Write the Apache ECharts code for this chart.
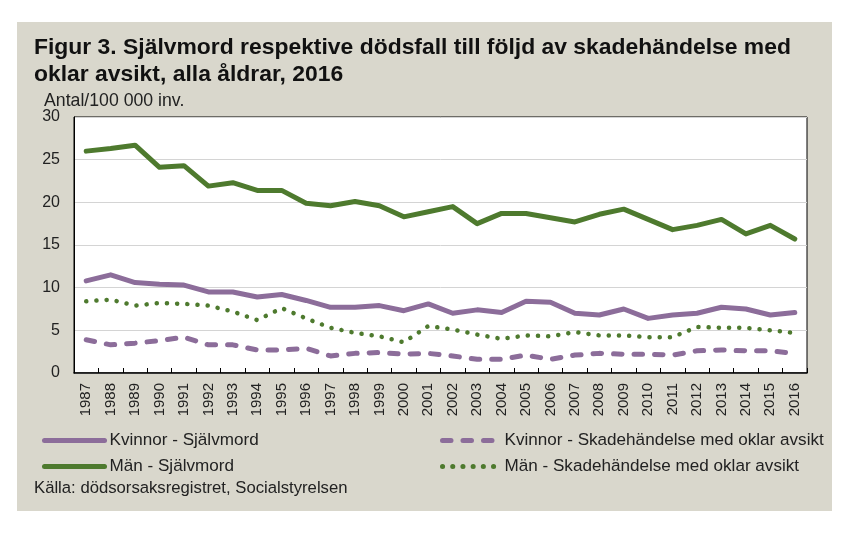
<!DOCTYPE html>
<html>
<head>
<meta charset="utf-8">
<script src="https://cdn.jsdelivr.net/npm/echarts@6/dist/echarts.min.js"></script>
<style>
html,body{margin:0;padding:0;background:#fff;}
#c{width:857px;height:533px;}
</style>
</head>
<body>
<div id="c"></div>
<script>
const years = ['1987','1988','1989','1990','1991','1992','1993','1994','1995','1996','1997','1998','1999','2000','2001','2002','2003','2004','2005','2006','2007','2008','2009','2010','2011','2012','2013','2014','2015','2016'];
const kvinnorSjalvmord = [10.8,11.5,10.6,10.4,10.3,9.5,9.5,8.9,9.2,8.5,7.7,7.7,7.9,7.3,8.1,7.0,7.4,7.1,8.4,8.3,7.0,6.8,7.5,6.4,6.8,7.0,7.7,7.5,6.8,7.1];
const kvinnorOklar = [3.9,3.3,3.5,3.8,4.2,3.3,3.3,2.7,2.7,2.9,2.0,2.3,2.4,2.2,2.3,2.0,1.6,1.6,2.1,1.6,2.1,2.3,2.2,2.2,2.1,2.6,2.7,2.6,2.6,2.3];
const manSjalvmord = [26.0,26.3,26.7,24.1,24.3,21.9,22.3,21.4,21.4,19.9,19.6,20.1,19.6,18.3,18.9,19.5,17.5,18.7,18.7,18.2,17.7,18.6,19.2,18.0,16.8,17.3,18.0,16.3,17.3,15.7];
const manOklar = [8.4,8.6,7.9,8.2,8.1,7.9,7.2,6.2,7.6,6.4,5.3,4.7,4.3,3.6,5.5,5.1,4.5,4.0,4.4,4.3,4.8,4.4,4.4,4.2,4.2,5.4,5.3,5.3,5.0,4.7];
const seriesNames = ['Kvinnor - Självmord','Kvinnor - Skadehändelse med oklar avsikt','Män - Självmord','Män - Skadehändelse med oklar avsikt'];
const titleLines = ['Figur 3. Självmord respektive dödsfall till följd av skadehändelse med','oklar avsikt, alla åldrar, 2016'];
const unitLabel = 'Antal/100 000 inv.';
const sourceText = 'Källa: dödsorsaksregistret, Socialstyrelsen';

const FONT = '"Liberation Sans", Arial, sans-serif';
const cvs = document.createElement('canvas').getContext('2d');
function fit(text, weight, target){
  cvs.font = weight + ' 100px ' + FONT;
  return Math.round(100 * target / cvs.measureText(text).width * 10) / 10;
}
const titleSize = fit(titleLines[0], 'bold', 756);
const legendSize = fit(seriesNames[1], 'normal', 319);
const sourceSize = fit(sourceText, 'normal', 313);
const unitSize = fit(unitLabel, 'normal', 140);

const GREEN = '#4E7A2E';
const PURPLE = '#8C6D9A';

const legendCommon = {orient:'vertical', itemHeight:16, itemGap:9,
  itemStyle:{opacity:0},
  lineStyle:{width:5, cap:'round', type:'inherit'},
  textStyle:{fontFamily:FONT, fontSize:legendSize, color:'#222'}};

const chart = echarts.init(document.getElementById('c'), null, {renderer:'canvas'});
chart.setOption({
  animation:false,
  backgroundColor:'#fff',
  graphic:[{type:'rect', z:-10, silent:true, shape:{x:17,y:22,width:815,height:489}, style:{fill:'#D9D7CC'}}],
  title:[
    {text:titleLines.join('\n'), left:29, top:29, textStyle:{fontFamily:FONT, fontWeight:'bold', fontSize:titleSize, lineHeight:27, color:'#111'}},
    {text:unitLabel, left:39, top:87, textStyle:{fontFamily:FONT, fontWeight:'normal', fontSize:unitSize, color:'#222'}},
    {text:sourceText, left:29, top:475, textStyle:{fontFamily:FONT, fontWeight:'normal', fontSize:sourceSize, color:'#222'}}
  ],
  legend:[
    Object.assign({left:37, top:427, itemWidth:60, data:[seriesNames[0], seriesNames[2]]}, legendCommon),
    Object.assign({left:435, top:427, itemWidth:57, data:[seriesNames[1], seriesNames[3]]}, legendCommon)
  ],
  grid:{left:74, right:50, top:117, bottom:160, show:true, backgroundColor:'#fff', borderColor:'#000', borderWidth:1},
  xAxis:{
    type:'category', data:years, boundaryGap:true,
    axisLine:{lineStyle:{color:'#000', width:1.5}},
    axisTick:{show:true, inside:true, length:5, alignWithLabel:false, interval:0, lineStyle:{color:'#000'}},
    axisLabel:{rotate:90, interval:0, margin:10, fontFamily:FONT, fontSize:15, color:'#222'}
  },
  yAxis:{
    type:'value', min:0, max:30, interval:5,
    axisLine:{show:true, lineStyle:{color:'#000', width:1}},
    axisTick:{show:false},
    axisLabel:{margin:14, fontFamily:FONT, fontSize:16, color:'#222'},
    splitLine:{lineStyle:{color:'#D4D4D4', width:1}}
  },
  series:[
    {name:seriesNames[0], type:'line', data:kvinnorSjalvmord, symbol:'none', color:PURPLE, z:3,
     lineStyle:{color:PURPLE, width:5, cap:'round', join:'round'}},
    {name:seriesNames[1], type:'line', data:kvinnorOklar, symbol:'none', color:PURPLE, z:2,
     lineStyle:{color:PURPLE, width:5, type:[8.5,12], cap:'round', join:'round'}},
    {name:seriesNames[2], type:'line', data:manSjalvmord, symbol:'none', color:GREEN, z:3,
     lineStyle:{color:GREEN, width:5, cap:'round', join:'round'}},
    {name:seriesNames[3], type:'line', data:manOklar, symbol:'none', color:GREEN, z:2,
     lineStyle:{color:GREEN, width:4.5, type:[0.1,10.1], cap:'round', join:'round'}}
  ]
});
</script>
</body>
</html>
